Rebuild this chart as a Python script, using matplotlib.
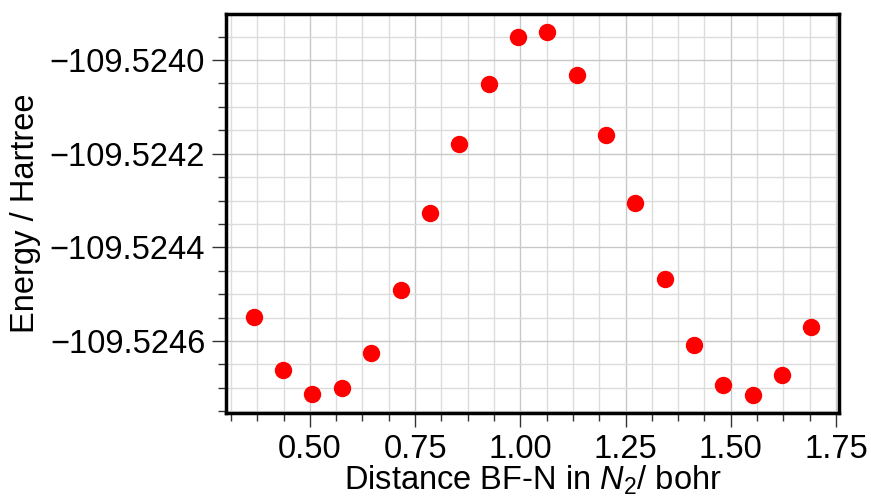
import numpy as np
import matplotlib
matplotlib.use("Agg")
import matplotlib.pyplot as plt
from matplotlib.ticker import MultipleLocator

# distance BF-N (bohr) and total energy (Hartree)
distance = [0.367, 0.437, 0.506, 0.576, 0.646, 0.716, 0.785, 0.855, 0.925, 0.994,
            1.064, 1.134, 1.203, 1.273, 1.343, 1.412, 1.482, 1.552, 1.621, 1.691]
energy = [-109.5245483, -109.5246617, -109.5247121, -109.5247008, -109.5246249,
          -109.5244915, -109.5243270, -109.5241802, -109.5240504, -109.5239504,
          -109.5239404, -109.5240319, -109.5241596, -109.5243051, -109.5244668,
          -109.5246079, -109.5246930, -109.5247149, -109.5246732, -109.5245702]

plt.rcParams['font.family'] = ['Liberation Sans', 'DejaVu Sans']
plt.rcParams['mathtext.fontset'] = 'custom'
plt.rcParams['mathtext.rm'] = 'Liberation Sans'
plt.rcParams['mathtext.it'] = 'Liberation Sans:italic'

fig = plt.figure(figsize=(8.71, 4.99), dpi=100)
ax = fig.add_axes([0.2595, 0.1723, 0.7038, 0.7996])

ax.plot(distance, energy, 'o', color='red', ms=11.5, zorder=3)

ax.ticklabel_format(axis='y', useOffset=False)
ax.yaxis.set_major_locator(MultipleLocator(0.0002))
ax.yaxis.set_minor_locator(MultipleLocator(0.00005))
ax.xaxis.set_major_locator(MultipleLocator(0.25))
ax.xaxis.set_minor_locator(MultipleLocator(0.0625))

ax.grid(which='major', color='#c8c8c8', lw=1.0, zorder=0)
ax.grid(which='minor', color='#dcdcdc', lw=1.0, zorder=0)
ax.set_axisbelow(True)

for s in ax.spines.values():
    s.set_linewidth(2.5)

ax.tick_params(which='major', length=10, width=1, labelsize=23.5, color='#333333', pad=5)
ax.tick_params(which='minor', length=6, width=1, color='#333333')

ax.set_xlabel('Distance BF-N in $N_2$/ bohr', fontsize=23.5, labelpad=-1)
ax.set_ylabel('Energy / Hartree', fontsize=23.5, labelpad=6)

fig.savefig('out.png', dpi=100)
